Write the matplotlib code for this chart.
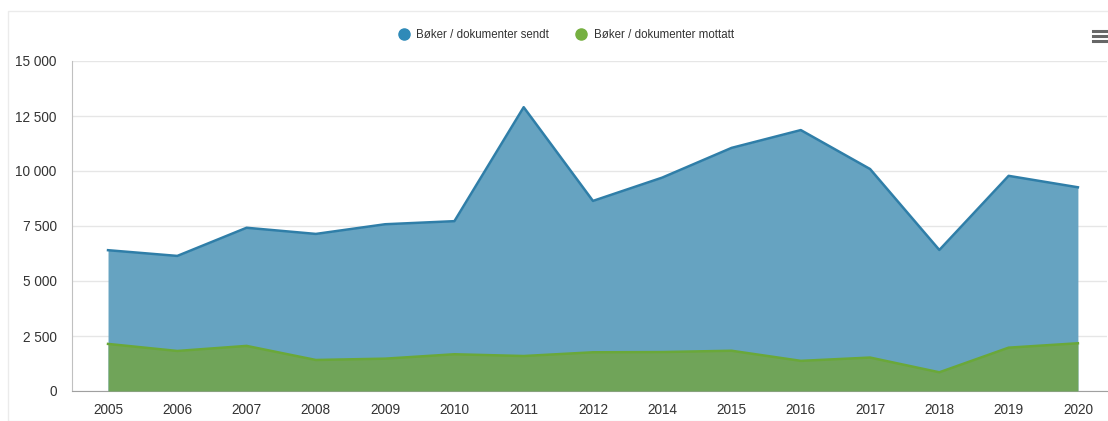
import matplotlib.pyplot as plt
from matplotlib.patches import Rectangle
from matplotlib.lines import Line2D
from matplotlib.ticker import FuncFormatter
import numpy as np

years = ['2005', '2006', '2007', '2008', '2009', '2010', '2011', '2012',
         '2014', '2015', '2016', '2017', '2018', '2019', '2020']
sent = [6400, 6140, 7420, 7140, 7580, 7720, 12900, 8640,
        9700, 11050, 11860, 10090, 6410, 9780, 9260]
received = [2140, 1820, 2050, 1410, 1470, 1670, 1590, 1760,
            1770, 1830, 1370, 1520, 850, 1970, 2170]

blue_line = '#2f7ea8'
blue_fill = '#66a3c1'
green_line = '#6aa839'
green_fill = '#70a459'
text_color = '#333333'

plt.rcParams['font.family'] = ['Liberation Sans', 'DejaVu Sans']

W, H = 1108, 421
fig = plt.figure(figsize=(W / 100, H / 100), dpi=100)
fig.patch.set_facecolor('white')

# light container border
fig.add_artist(Rectangle((8 / W, 0), 1.2, 1 - 11 / H, transform=fig.transFigure,
                         fill=False, edgecolor='#ebebeb', linewidth=1))

ax = fig.add_axes([72 / W, 1 - 391 / H, (1107 - 72) / W, (391 - 61) / H])
x = np.arange(len(years))

ax.fill_between(x, 0, sent, color=blue_fill, linewidth=0, zorder=2)
ax.plot(x, sent, color=blue_line, linewidth=1.8, zorder=3)
ax.fill_between(x, 0, received, color=green_fill, linewidth=0, zorder=4)
ax.plot(x, received, color=green_line, linewidth=1.8, zorder=5)

ax.set_xlim(-0.52, 14.42)
ax.set_ylim(0, 15000)
ax.set_yticks(np.arange(0, 15001, 2500))
ax.yaxis.set_major_formatter(FuncFormatter(lambda v, p: f'{int(v):,}'.replace(',', ' ')))
ax.set_xticks(x)
ax.set_xticklabels(years)
ax.tick_params(axis='both', length=0, labelsize=9.8, labelcolor=text_color)
ax.tick_params(axis='y', pad=11)
ax.tick_params(axis='x', pad=8.5)

ax.grid(axis='y', color='#e6e6e6', linewidth=1, zorder=1)
ax.set_axisbelow(True)
for side in ['top', 'right']:
    ax.spines[side].set_visible(False)
ax.spines['left'].set_color('#c0c0c0')
ax.spines['bottom'].set_color('#a0a0a0')

handles = [
    Line2D([], [], marker='o', linestyle='none', markersize=8,
           markerfacecolor='#2f8ab8', markeredgecolor='#2f8ab8'),
    Line2D([], [], marker='o', linestyle='none', markersize=8,
           markerfacecolor='#76b041', markeredgecolor='#76b041'),
]
fig.legend(handles, ['Bøker / dokumenter sendt', 'Bøker / dokumenter mottatt'],
           loc='center', bbox_to_anchor=(566 / W, 1 - 35 / H), ncol=2,
           frameon=False, fontsize=8.3, labelcolor=text_color,
           handletextpad=0.6, columnspacing=2.3, handlelength=1.0)

# export menu icon
for yy in (30.5, 35.5, 40.5):
    fig.add_artist(Line2D([1093 / W, 1107 / W], [1 - yy / H, 1 - yy / H],
                          transform=fig.transFigure, color='#666666', linewidth=2.2))

fig.savefig('out.png', dpi=100)
